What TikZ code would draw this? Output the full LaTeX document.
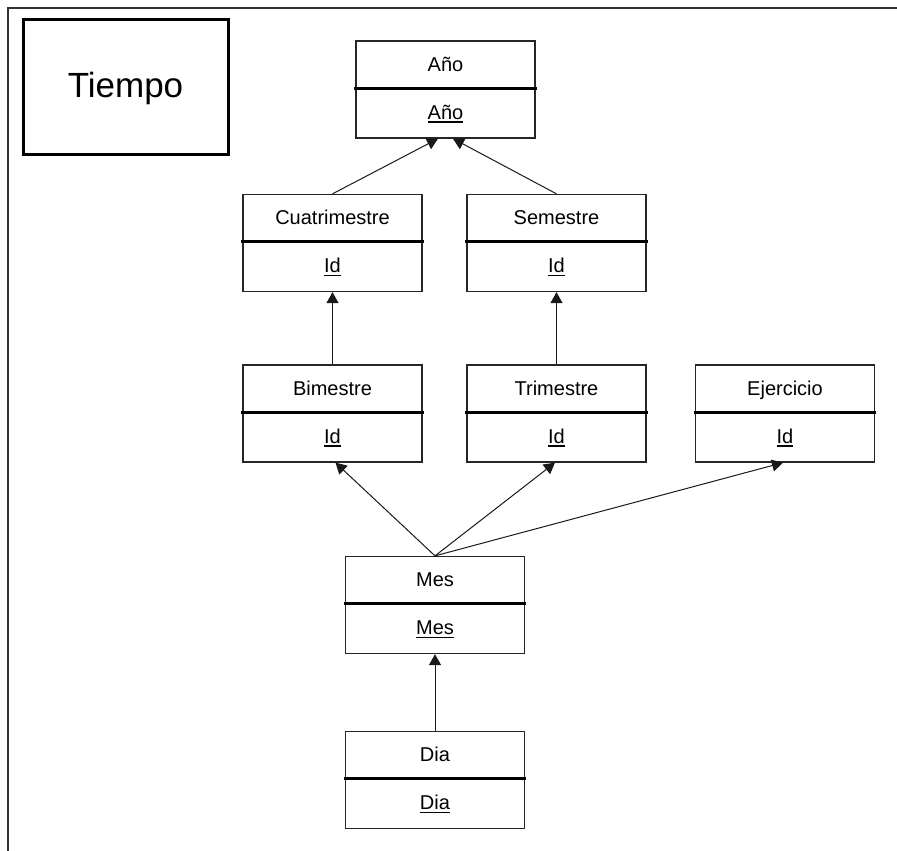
\documentclass[tikz,border=0pt]{standalone}
\usepackage{fontspec}
\setmainfont{Liberation Sans}
\usetikzlibrary{arrows.meta,calc}

% underlined key attribute
\newcommand{\ulkey}[1]{\setbox0\hbox{#1}\hbox to \wd0{\rlap{\rule[-3.6pt]{\wd0}{1.8pt}}#1\hfil}}

\tikzset{
  entbox/.style={draw=black!85, line width=1.3pt, fill=white, minimum width=179pt, minimum height=97pt, inner sep=0pt},
  divider/.style={line width=3pt, black},
  enttext/.style={font=\fontsize{20}{24}\selectfont, inner sep=0pt, anchor=base},
  link/.style={line width=1pt, black!90, -{Triangle[length=11pt,width=12pt]}},
  frameline/.style={line width=1.6pt, black!80},
  titlebox/.style={draw=black, line width=3pt, minimum width=205pt, minimum height=135pt, inner sep=0pt},
  titletext/.style={font=\fontsize{35}{40}\selectfont, inner sep=0pt, anchor=base}
}

% entity: name, centre, title, key
\newcommand{\entity}[5]{%
  \node[entbox] (#1) at (#2,#3) {};
  \draw[divider] ([xshift=-1pt,yshift=-48pt]#1.north west) -- ([xshift=1pt,yshift=-48pt]#1.north east);
  \node[enttext] (#1-title) at ([yshift=-31pt]#1.north) {#4};
  \node[enttext] (#1-key) at ([yshift=-79pt]#1.north) {\ulkey{#5}};
}

\begin{document}
\begin{tikzpicture}[x=1pt,y=-1pt]
\useasboundingbox (0,0) rectangle (897,851);

% outer frame (top and left edges)
\coordinate (fbl) at (8,851);
\coordinate (ftl) at (8,8);
\coordinate (ftr) at (897,8);
\draw[frameline] (fbl) -- (ftl) -- (ftr);

% dimension title
\node[titlebox] (tiempo) at (125.5,87) {};
\node[titletext] (tiempo-label) at ([yshift=-11pt]tiempo.center) {Tiempo};

% entities
\entity{anio}{445.5}{89.5}{Año}{Año}
\entity{cuat}{332.5}{243}{Cuatrimestre}{Id}
\entity{sem}{556.5}{243}{Semestre}{Id}
\entity{bim}{332.5}{413.5}{Bimestre}{Id}
\entity{trim}{556.5}{413.5}{Trimestre}{Id}
\entity{ejer}{785}{413.5}{Ejercicio}{Id}
\entity{mes}{435}{605}{Mes}{Mes}
\entity{dia}{435}{780}{Dia}{Dia}

% roll-up links
\draw[link] (cuat.north) -- ([xshift=-7.5pt]anio.south);
\draw[link] (sem.north) -- ([xshift=7.5pt]anio.south);
\draw[link] (bim.north) -- (cuat.south);
\draw[link] (trim.north) -- (sem.south);
\draw[link] (mes.north) -- ([xshift=3pt]bim.south);
\draw[link] (mes.north) -- ([xshift=-1.5pt]trim.south);
\draw[link] (mes.north) -- ([xshift=-2pt]ejer.south);
\draw[link] (dia.north) -- (mes.south);
\end{tikzpicture}
\end{document}
